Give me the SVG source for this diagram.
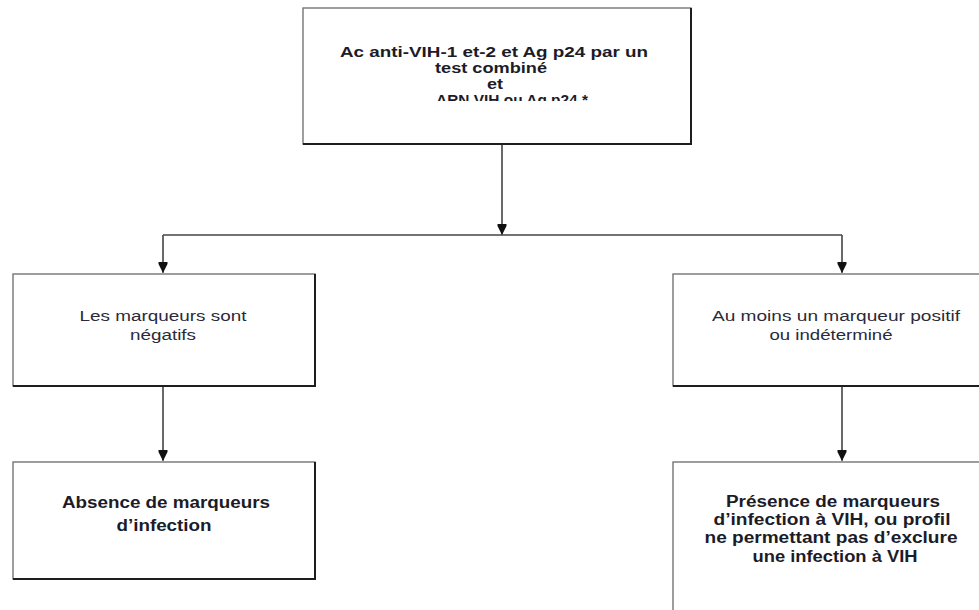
<svg xmlns="http://www.w3.org/2000/svg" width="979" height="610" viewBox="0 0 979 610">
  <defs>
    <style>
      .box { fill: #ffffff; stroke: #6a6a6a; stroke-width: 1.3; }
      .edge { fill: none; stroke: #1e1e1e; stroke-width: 2; }
      .link { fill: none; stroke: #444444; stroke-width: 1.6; }
      .bold { font-family: "Liberation Sans", Arial, sans-serif; font-weight: bold; fill: #1c1c28; text-anchor: middle; }
      .plain { font-family: "Liberation Sans", Arial, sans-serif; fill: #2a2a3a; text-anchor: middle; }
    </style>
    <marker id="arrow" markerUnits="userSpaceOnUse" markerWidth="10" markerHeight="12" refX="11" refY="4.5" orient="auto">
      <path d="M0,0 L2,0 L11,4.5 L2,9 L0,9 Z" fill="#111111"/>
    </marker>
    <clipPath id="topClip">
      <rect x="303" y="8" width="388" height="93"/>
    </clipPath>
  </defs>

  <rect width="979" height="610" fill="#ffffff"/>

  <!-- connectors -->
  <g id="connectors">
    <path class="link" d="M502,144 V235" marker-end="url(#arrow)"/>
    <path class="link" d="M163,235 H842"/>
    <path class="link" d="M163,235 V273" marker-end="url(#arrow)"/>
    <path class="link" d="M842,235 V273" marker-end="url(#arrow)"/>
    <path class="link" d="M163,386 V461" marker-end="url(#arrow)"/>
    <path class="link" d="M842,386 V461" marker-end="url(#arrow)"/>
  </g>

  <!-- top test box -->
  <g id="test">
    <rect class="box" x="303" y="8" width="388" height="136"/>
    <path class="edge" d="M691,8 V144 H303"/>
    <g clip-path="url(#topClip)" class="bold" font-size="14.5">
      <text x="494" y="57" textLength="308" lengthAdjust="spacingAndGlyphs">Ac anti-VIH-1 et-2 et Ag p24 par un</text>
      <text x="491" y="73" textLength="112" lengthAdjust="spacingAndGlyphs">test combiné</text>
      <text x="495" y="89" textLength="16" lengthAdjust="spacingAndGlyphs">et</text>
      <text x="512" y="105" textLength="152" lengthAdjust="spacingAndGlyphs">ARN VIH ou Ag p24 *</text>
    </g>
  </g>

  <!-- negative branch -->
  <g id="negatifs">
    <rect class="box" x="13" y="274" width="302" height="112"/>
    <path class="edge" d="M315,274 V386 H13"/>
    <text class="plain" font-size="15.5" x="163" y="321" textLength="167" lengthAdjust="spacingAndGlyphs">Les marqueurs sont</text>
    <text class="plain" font-size="15.5" x="163" y="340" textLength="66" lengthAdjust="spacingAndGlyphs">négatifs</text>
  </g>

  <!-- positive branch -->
  <g id="positif">
    <rect class="box" x="673" y="274" width="320" height="112"/>
    <path class="edge" d="M673,386 H993"/>
    <text class="plain" font-size="15.5" x="836" y="321" textLength="248" lengthAdjust="spacingAndGlyphs">Au moins un marqueur positif</text>
    <text class="plain" font-size="15.5" x="831" y="340" textLength="123" lengthAdjust="spacingAndGlyphs">ou indéterminé</text>
  </g>

  <!-- no infection -->
  <g id="absence">
    <rect class="box" x="13" y="462" width="302" height="117"/>
    <path class="edge" d="M315,462 V579 H13"/>
    <text class="bold" font-size="16" x="166" y="508" textLength="208" lengthAdjust="spacingAndGlyphs">Absence de marqueurs</text>
    <text class="bold" font-size="16" x="164" y="531" textLength="95" lengthAdjust="spacingAndGlyphs">d’infection</text>
  </g>

  <!-- infection markers present -->
  <g id="presence">
    <rect class="box" x="673" y="462" width="320" height="170"/>
    <text class="bold" font-size="16" x="833" y="507" textLength="214" lengthAdjust="spacingAndGlyphs">Présence de marqueurs</text>
    <text class="bold" font-size="16" x="832" y="525" textLength="237" lengthAdjust="spacingAndGlyphs">d’infection à VIH, ou profil</text>
    <text class="bold" font-size="16" x="831" y="543" textLength="253" lengthAdjust="spacingAndGlyphs">ne permettant pas d’exclure</text>
    <text class="bold" font-size="16" x="835" y="562" textLength="165" lengthAdjust="spacingAndGlyphs">une infection à VIH</text>
  </g>
</svg>
